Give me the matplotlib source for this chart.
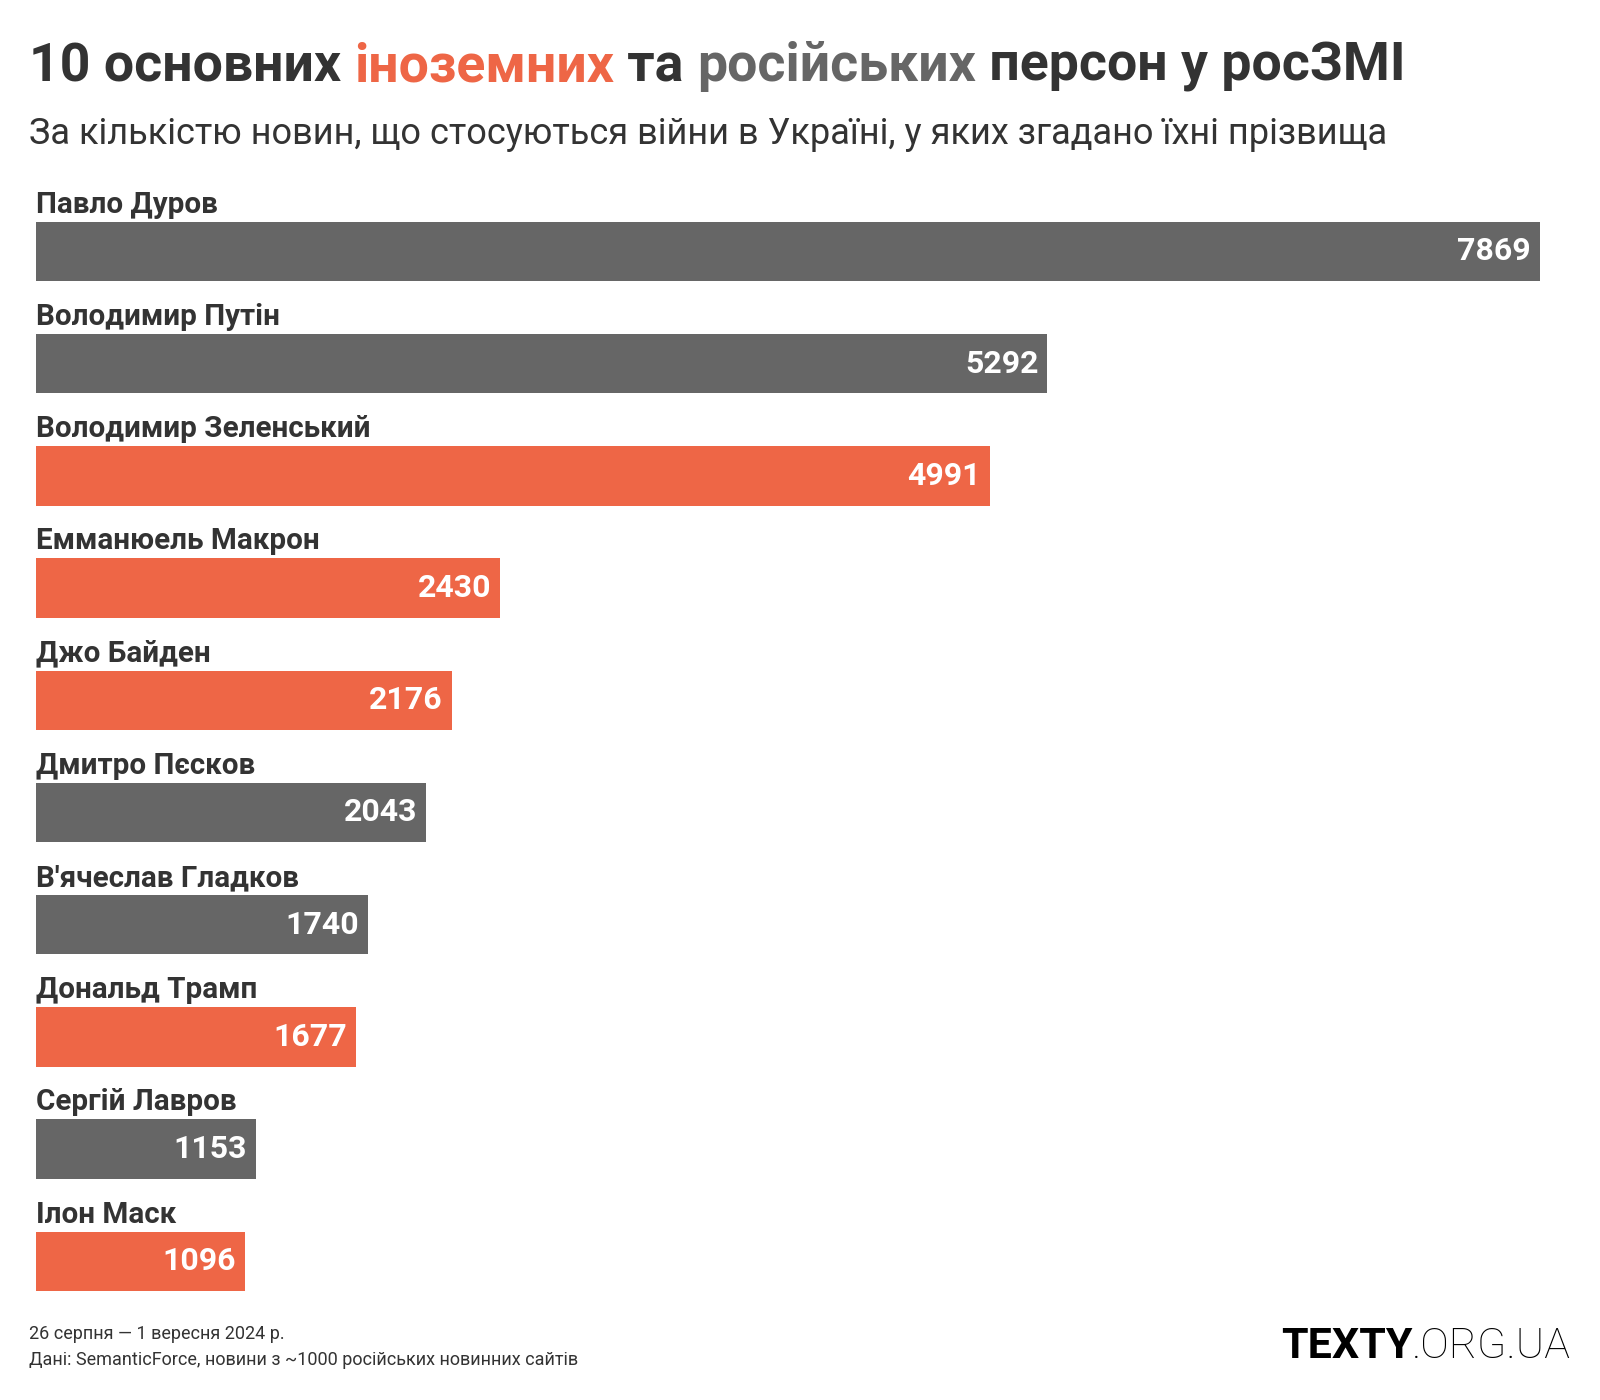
import matplotlib
matplotlib.use("Agg")
import matplotlib.pyplot as plt

plt.rcParams['font.family'] = ['Roboto', 'DejaVu Sans']

names = ["Павло Дуров", "Володимир Путін", "Володимир Зеленський", "Емманюель Макрон",
         "Джо Байден", "Дмитро Пєсков", "В'ячеслав Гладков", "Дональд Трамп",
         "Сергій Лавров", "Ілон Маск"]
counts = [7869, 5292, 4991, 2430, 2176, 2043, 1740, 1677, 1153, 1096]
groups = ["ru", "ru", "foreign", "foreign", "foreign", "ru", "ru", "foreign", "ru", "foreign"]

GRAY = "#666666"
ORANGE = "#EE6646"
DARK = "#333333"
colors = {"ru": GRAY, "foreign": ORANGE}

W, H = 1600, 1400
fig = plt.figure(figsize=(W/100, H/100), dpi=100)

# axes placed so the bars land where they are in the reference
ax = fig.add_axes([35.7/W, 1 - 1291/H, (1540 - 35.7)/W, (1291 - 160)/H])
ax.set_xlim(0, max(counts))
ax.set_ylim(9.265, -0.815)
ax.axis("off")

bh = 0.53
for i, (n, v, g) in enumerate(zip(names, counts, groups)):
    ax.barh(i, v, height=bh, color=colors[g])
    ax.text(0, i - bh/2 - 0.08, n, ha="left", va="baseline", fontsize=21.3,
            fontweight="bold", color=DARK)
    ax.annotate(str(v), (v, i), xytext=(-9, 0), textcoords="offset pixels",
                ha="right", va="center", fontsize=23, fontweight="bold", color="white")

# title in three colours, pieces placed one after the other
fig.canvas.draw()
r = fig.canvas.get_renderer()
x = 29/W
for part, col in [("10 основних ", DARK), ("іноземних", ORANGE), (" та ", DARK),
                  ("російських", GRAY), (" персон у росЗМІ", DARK)]:
    t = fig.text(x, 1 - 81/H, part, fontsize=38.6, fontweight="bold", color=col,
                 ha="left", va="baseline")
    bb = t.get_window_extent(renderer=r)
    x += bb.width / W

fig.text(29/W, 1 - 144/H, "За кількістю новин, що стосуються війни в Україні, у яких згадано їхні прізвища",
         fontsize=26, color=DARK, ha="left", va="baseline")

fig.text(29/W, 1 - 1339/H, "26 серпня — 1 вересня 2024 р.", fontsize=13, color=DARK,
         ha="left", va="baseline")
fig.text(29/W, 1 - 1365/H, "Дані: SemanticForce, новини з ~1000 російських новинних сайтів",
         fontsize=13, color=DARK, ha="left", va="baseline")

# logo
t2 = fig.text(1571/W, 1 - 1358/H, ".ORG.UA", fontsize=31, color="black",
              ha="right", va="baseline", fontweight="light")
bb = t2.get_window_extent(renderer=r)
fig.text(bb.x0/W, 1 - 1358/H, "TEXTY", fontsize=31, color="black", ha="right",
         va="baseline", fontweight="bold")

fig.savefig("out.png", dpi=100, facecolor="white")
